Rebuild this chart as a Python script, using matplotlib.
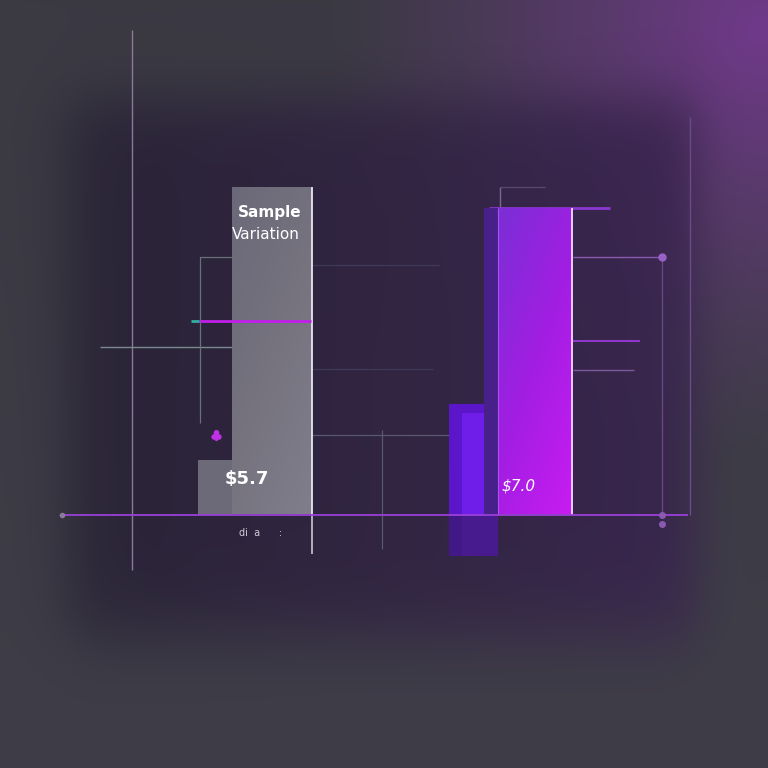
import numpy as np
import matplotlib
matplotlib.use("Agg")
import matplotlib.pyplot as plt
from matplotlib.colors import to_rgb

# ---- data ----
categories = ["Sample", "Variation"]
main_values = [57.5, 53.7]          # main bars
side_values = [9.5, 19.3]           # small side blocks
side_bottom = [0.0, -7.2]
value_labels = ["$5.7", "$7.0"]
title_lines = ["Sample", "Variation"]
tick_text = "di  a      :"

# ---- figure & background ----
W = H = 768
fig = plt.figure(figsize=(7.68, 7.68), dpi=100)
bg = fig.add_axes([0, 0, 1, 1])
bg.set_axis_off()

yy, xx = np.mgrid[0:H, 0:W].astype(float)
def sig(v):
    return 1 / (1 + np.exp(-v))
top = np.array(to_rgb("#3b3a43"))
bot = np.array(to_rgb("#3f3e48"))
t = (yy / H)[..., None]
img = top * (1 - t) + bot * t
# purple glow top-right
d = np.sqrt((xx - 760) ** 2 + (yy - 30) ** 2)
g = np.clip(1 - d / 430, 0, 1)[..., None] ** 1.2
img = img * (1 - g) + np.array(to_rgb("#70398a")) * g
# dark panel
m = sig((xx - 70) / 18) * sig((695 - xx) / 14) * sig((yy - 100) / 18) * sig((635 - yy) / 22)
m = m[..., None]
tx = (xx / W)[..., None]
pl = np.array(to_rgb("#252131")) * (1 - tx) + np.array(to_rgb("#3b2452")) * tx
img = img * (1 - 0.9 * m) + pl * 0.9 * m
bg.imshow(np.clip(img, 0, 1), extent=[0, W, H, 0], aspect="auto")
bg.set_xlim(0, W); bg.set_ylim(H, 0)

# ---- main axes ----
ax = fig.add_axes([132 / W, (H - 600) / H, 558 / W, 570 / H])
ax.set_xlim(0, 10)
ax.set_ylim(-15, 85)
ax.set_axis_off()
ax.patch.set_alpha(0)

def line(xs, ys, **kw):
    ax.plot(xs, ys, clip_on=False, solid_capstyle="butt", **kw)

x_main = [2.51, 7.22]
w_main = [1.43, 1.33]
x_side = [1.49, 6.12]
w_side = [0.61, 0.88]

# side blocks
ax.bar(x_side[0], side_values[0], w_side[0], bottom=side_bottom[0], color="#6c6a78", zorder=2)
ax.bar(x_side[1], side_values[1] - side_bottom[1], w_side[1], bottom=side_bottom[1],
       color="#5a16c8", zorder=2)
ax.bar(x_side[1] + 0.12, side_values[1] - 1.5 - side_bottom[1], w_side[1] - 0.24, bottom=side_bottom[1],
       color="#6e1ee8", zorder=2.05)
# fade reflection below baseline
ax.bar(x_side[1], -side_bottom[1], w_side[1], bottom=side_bottom[1], color="#3a1a70", alpha=0.75, zorder=2.1)

# dark strip behind purple bar
ax.bar(x_main[1] - w_main[1] / 2 - 0.12, main_values[1], 0.25, color="#47208a", zorder=2.5)

def grad_bar(x, w, h, cmap_cols, z):
    rect = ax.bar(x, h, w, color="none", zorder=z)[0]
    c0, c1, c2 = [np.array(to_rgb(c)) for c in cmap_cols]
    gy, gx = np.mgrid[0:1:200j, 0:1:60j]
    tt = np.clip(0.6 * gy + 0.4 * gx, 0, 1)[..., None]
    a = np.where(tt < 0.5, c0 * (1 - tt * 2) + c1 * tt * 2, c1 * (2 - tt * 2) + c2 * (tt * 2 - 1))
    im = ax.imshow(a, extent=[x - w / 2, x + w / 2, 0, h], aspect="auto", origin="upper", zorder=z)
    im.set_clip_path(rect)
    return rect

grad_bar(x_main[0], w_main[0], main_values[0], ["#6b6879", "#76737f", "#817e8c"], 3)
grad_bar(x_main[1], w_main[1], main_values[1], ["#7a2fd6", "#a21ee2", "#c81cf2"], 3)
ax.set_xlim(0, 10); ax.set_ylim(-15, 85)

# bright right edges
for x, w, v, c in zip(x_main, w_main, main_values, ["#e8e6f0", "#f0d8ff"]):
    line([x + w / 2, x + w / 2], [0, v], color=c, lw=1.3, zorder=4)
line([x_main[0] + w_main[0] / 2] * 2, [-7, 0], color="#d8d6e0", lw=1.1, zorder=4)
line([x_main[1] - w_main[1] / 2] * 2, [0, main_values[1]], color="#b050f0", lw=0.8, zorder=4)

# axis lines
line([0, 0], [-9.8, 85], color="#8a7a9a", lw=1.0, zorder=1)
line([-1.25, 9.96], [0, 0], color="#9a40d8", lw=1.3, zorder=5)
ax.plot([-1.25], [0], "o", ms=3, color="#8a7a9a", zorder=5, clip_on=False)
ax.plot([9.5, 9.5], [0, -1.6], "o", ms=4, color="#8a5ab0", zorder=5, clip_on=False)
line([10, 10], [0, 69.8], color="#6a4a88", lw=1.0, zorder=1)

# guide lines, left
line([1.2, 3.2], [34.0, 34.0], color="#c020e8", lw=2.0, zorder=4)
line([1.05, 1.2], [34.0, 34.0], color="#30b0a0", lw=2.0, zorder=4)
line([-0.57, 1.8], [29.4, 29.4], color="#7a8a90", lw=1.0, zorder=1)
line([1.22, 1.22, 1.8], [16.0, 45.1, 45.1], color="#6a7078", lw=0.9, zorder=1)
ax.plot([1.5], [14.0], marker="$\u2663$", ms=7, color="#c030e8", zorder=3)
# guide lines, middle
line([3.2, 5.88], [13.9, 13.9], color="#5a5870", lw=0.9, zorder=1)
line([4.48, 4.48], [-6, 14.9], color="#5a5870", lw=0.9, zorder=1)
line([3.2, 5.4], [25.6, 25.6], color="#3e3a58", lw=0.9, zorder=1)
line([3.2, 5.5], [43.7, 43.7], color="#3e3a58", lw=0.9, zorder=1)
# guide lines, right
line([6.4, 8.56], [53.7, 53.7], color="#8a38d0", lw=2.0, zorder=2)
line([6.6, 6.6], [53.7, 57.5], color="#7a6a90", lw=1.0, zorder=1)
line([6.6, 7.4], [57.5, 57.5], color="#5a4a70", lw=0.9, zorder=1)
line([7.9, 9.5], [45.1, 45.1], color="#8a5ab0", lw=1.0, zorder=1)
ax.plot([9.5], [45.1], "o", ms=5, color="#9a60c8", zorder=2)
line([9.5, 9.5], [0, 45.1], color="#6a4a88", lw=0.9, zorder=1)
line([7.9, 9.1], [30.4, 30.4], color="#9a38d8", lw=1.3, zorder=1)
line([7.9, 9.0], [25.3, 25.3], color="#7a5a98", lw=1.0, zorder=1)

# texts
ax.text(x_main[0] - w_main[0] / 2 + 0.1, 53.0, title_lines[0], color="white", fontsize=11,
        fontweight="bold", ha="left", va="center", zorder=6)
ax.text(x_main[0] - w_main[0] / 2 + 0.0, 49.2, title_lines[1], color="white", fontsize=11,
        ha="left", va="center", zorder=6)
ax.text(x_main[0] - 0.45, 6.3, value_labels[0], color="white", fontsize=13, fontweight="bold",
        ha="center", va="center", zorder=6)
ax.text(x_main[1] - 0.3, 5.0, value_labels[1], color="white", fontsize=11, fontstyle="italic",
        ha="center", va="center", zorder=6)
ax.text(x_main[0] - 0.2, -3.3, tick_text, color="#d0ccd8", fontsize=7, ha="center", va="center", zorder=6)

fig.savefig("out.png", dpi=100)
